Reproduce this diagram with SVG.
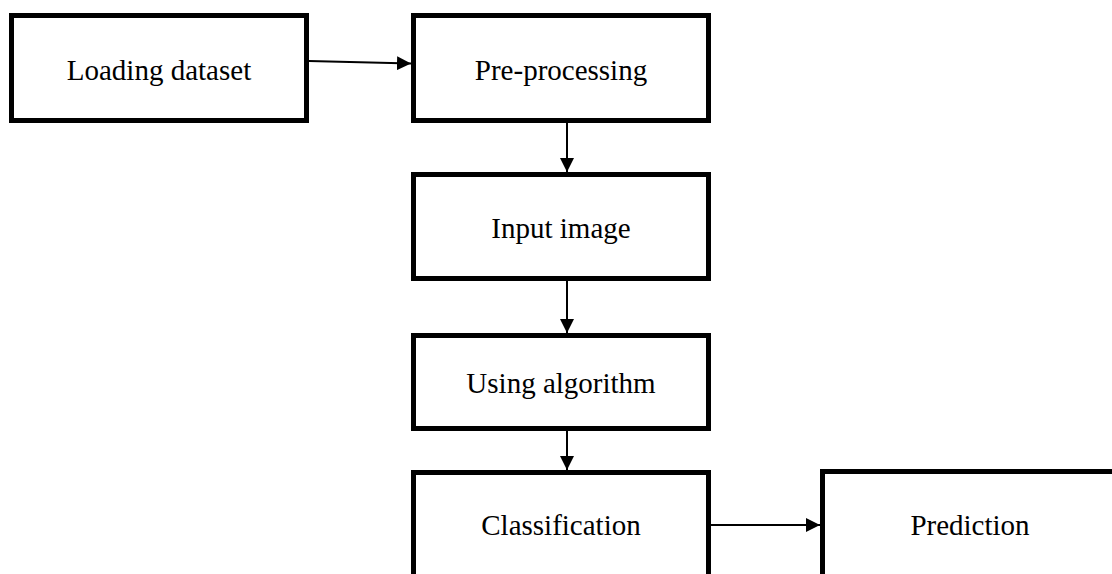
<svg xmlns="http://www.w3.org/2000/svg" width="1112" height="574" viewBox="0 0 1112 574">
<style>
.box{fill:#fff;stroke:#000;stroke-width:5}
.lbl{font-family:"Liberation Serif","Times New Roman",serif;font-size:29px;fill:#000;text-anchor:middle}
.conn{stroke:#000;stroke-width:2;fill:none}
</style>
<defs>
<marker id="ah" markerUnits="userSpaceOnUse" markerWidth="14" markerHeight="14" refX="14" refY="7" orient="auto">
<path d="M0,0 L14,7 L0,14 z" fill="#000"/>
</marker>
</defs>
<rect width="1112" height="574" fill="#fff"/>
<g id="n1"><rect class="box" x="11.5" y="15.5" width="295" height="105"/><text class="lbl" x="159" y="80">Loading dataset</text></g>
<g id="n2"><rect class="box" x="413.5" y="15.5" width="295" height="105"/><text class="lbl" x="561" y="80">Pre-processing</text></g>
<g id="n3"><rect class="box" x="413.5" y="174.5" width="295" height="104"/><text class="lbl" x="561" y="238">Input image</text></g>
<g id="n4"><rect class="box" x="413.5" y="335.5" width="295" height="93"/><text class="lbl" x="561" y="393">Using algorithm</text></g>
<g id="n5"><rect class="box" x="413.5" y="472.5" width="295" height="130"/><text class="lbl" x="561" y="535">Classification</text></g>
<g id="n6"><rect class="box" x="822.5" y="471.5" width="320" height="130"/><text class="lbl" x="970" y="535">Prediction</text></g>
<g id="connectors">
<line class="conn" x1="309" y1="61" x2="411" y2="63.5" marker-end="url(#ah)"/>
<line class="conn" x1="567" y1="123" x2="567" y2="172" marker-end="url(#ah)"/>
<line class="conn" x1="567" y1="281" x2="567" y2="333" marker-end="url(#ah)"/>
<line class="conn" x1="567" y1="431" x2="567" y2="470" marker-end="url(#ah)"/>
<line class="conn" x1="711" y1="525" x2="820" y2="525" marker-end="url(#ah)"/>
</g>
</svg>
